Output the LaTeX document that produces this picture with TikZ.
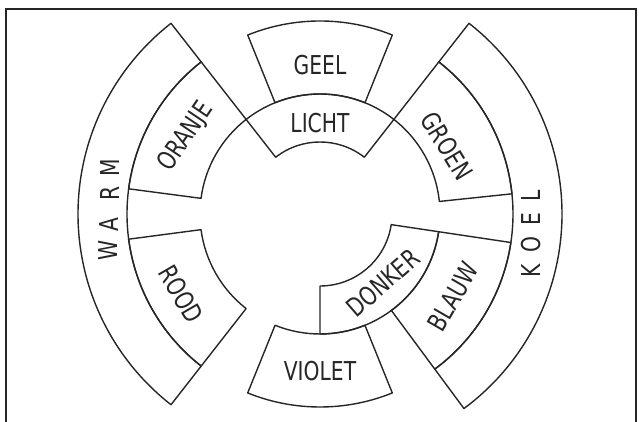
\documentclass[tikz,border=0pt]{standalone}
\usepackage{fontspec}
\newfontfamily\labfont{DejaVu Sans}[FakeStretch=0.78]
\newcommand\ringsect[4]{(#1:#3) arc[start angle=#1,end angle=#2,radius=#3] -- (#2:#4) arc[start angle=#2,end angle=#1,radius=#4] -- cycle}
\begin{document}
\begin{tikzpicture}[x=1pt,y=1pt,
  ring/.style={draw=black!85, line width=1.4pt, line join=round},
  lab/.style={font=\labfont\fontsize{26}{26}\selectfont, text=black!85, inner sep=0pt},
  frame/.style={draw=black!85, line width=1.8pt}]
\useasboundingbox (0,0) rectangle (639,422);
\draw[frame] (6,0) -- (6,413) -- (636,413) -- (636,0);
\begin{scope}[shift={(320,208)}]
  \draw[ring] \ringsect{52}{128}{72}{120};      % LICHT
  \draw[ring] \ringsect{68}{112}{120}{193};     % GEEL
  \draw[ring] \ringsect{128}{172.5}{120}{193};  % ORANJE
  \draw[ring] \ringsect{187.5}{232}{120}{193};  % ROOD
  \draw[ring] \ringsect{128}{232}{193}{242};    % WARM
  \draw[ring] \ringsect{248}{292}{120}{193};    % VIOLET
  \draw[ring] \ringsect{270}{351.5}{72}{120};   % DONKER
  \draw[ring] \ringsect{306.5}{351.5}{120}{193};% BLAUW
  \draw[ring] \ringsect{6}{52}{120}{193};       % GROEN
  \draw[ring] \ringsect{-53.5}{52}{193}{242};   % KOEL
\end{scope}
\node[lab] (geel) at (320,357) {GEEL};
\node[lab] (licht) at (320,299) {LICHT};
\node[lab] (violet) at (320,51) {VIOLET};
\node[lab, rotate=56] (oranje) at (186,285) {ORANJE};
\node[lab, rotate=-60] (rood) at (181,128) {ROOD};
\node[lab, rotate=-59] (groen) at (447,276) {GROEN};
\node[lab, rotate=60] (blauw) at (453,125) {BLAUW};
\node[lab, rotate=41] (donker) at (383,139) {DONKER};
\node[lab, rotate=90] (w1) at (108,172) {W};
\node[lab, rotate=90] (w2) at (109,197) {A};
\node[lab, rotate=90] (w3) at (110,229) {R};
\node[lab, rotate=90] (w4) at (110,254) {M};
\node[lab, rotate=90] (k1) at (531,151) {K};
\node[lab, rotate=90] (k2) at (531,177) {O};
\node[lab, rotate=90] (k3) at (531,203) {E};
\node[lab, rotate=90] (k4) at (531,226) {L};
\end{tikzpicture}
\end{document}
